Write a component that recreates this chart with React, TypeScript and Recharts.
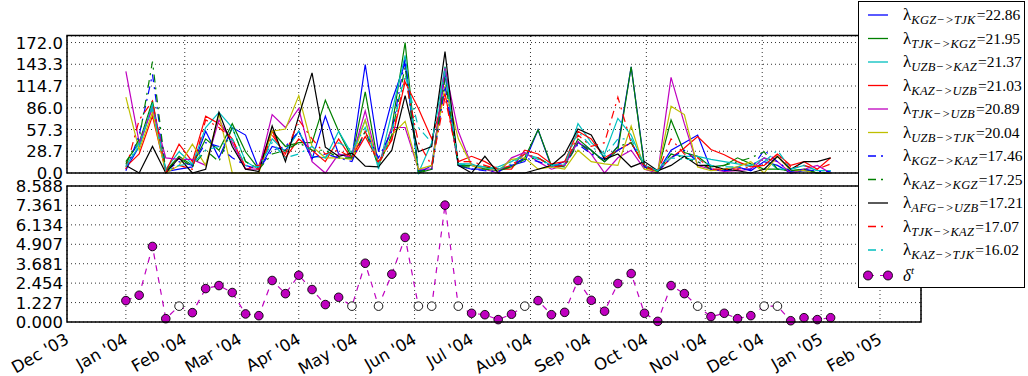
import React from 'react';
import { LineChart, Line, XAxis, YAxis, CartesianGrid } from 'recharts';

// weekly observations
const weeks = [
  '2004-01-01', '2004-01-08', '2004-01-15', '2004-01-22', '2004-01-29',
  '2004-02-05', '2004-02-12', '2004-02-19', '2004-02-26',
  '2004-03-04', '2004-03-11', '2004-03-18', '2004-03-25',
  '2004-04-01', '2004-04-08', '2004-04-15', '2004-04-22', '2004-04-29',
  '2004-05-06', '2004-05-13', '2004-05-20', '2004-05-27',
  '2004-06-03', '2004-06-10', '2004-06-17', '2004-06-24',
  '2004-07-01', '2004-07-08', '2004-07-15', '2004-07-22', '2004-07-29',
  '2004-08-05', '2004-08-12', '2004-08-19', '2004-08-26',
  '2004-09-02', '2004-09-09', '2004-09-16', '2004-09-23', '2004-09-30',
  '2004-10-07', '2004-10-14', '2004-10-21', '2004-10-28',
  '2004-11-04', '2004-11-11', '2004-11-18', '2004-11-25',
  '2004-12-02', '2004-12-09', '2004-12-16', '2004-12-23', '2004-12-30',
  '2005-01-06',
];

const kgzTjk = [5, 35, 90, 2, 5, 8, 55, 20, 60, 50, 5, 35, 30, 55, 18, 75, 25, 20, 143, 28, 95, 145, 0, 10, 130, 10, 5, 5, 3, 10, 15, 57, 8, 15, 40, 30, 15, 35, 140, 10, 2, 30, 40, 50, 5, 3, 8, 3, 15, 10, 0, 3, 0, 0];
const tjkKgz = [15, 40, 95, 3, 22, 10, 45, 30, 65, 28, 5, 55, 35, 40, 40, 96, 55, 20, 107, 10, 60, 172, 0, 5, 140, 10, 10, 8, 5, 8, 20, 57, 10, 10, 45, 30, 15, 30, 140, 8, 2, 70, 27, 22, 8, 10, 20, 12, 5, 5, 3, 5, 0, 0];
const uzbKaz = [10, 35, 90, 5, 28, 12, 60, 80, 60, 15, 5, 45, 28, 55, 22, 20, 55, 25, 70, 5, 80, 155, 0, 40, 140, 12, 12, 5, 8, 15, 25, 20, 10, 10, 65, 40, 25, 72, 50, 10, 3, 25, 22, 22, 18, 15, 12, 10, 20, 5, 5, 10, 3, 3];
const kazUzb = [8, 25, 75, 2, 38, 15, 75, 65, 45, 5, 10, 55, 20, 45, 30, 15, 45, 18, 48, 15, 43, 120, 85, 45, 105, 15, 22, 15, 5, 5, 30, 25, 12, 15, 55, 45, 20, 30, 40, 10, 2, 20, 33, 48, 31, 24, 15, 8, 10, 25, 10, 15, 5, 20];
const tjkUzb = [134, 40, 85, 20, 18, 18, 10, 70, 40, 5, 5, 77, 60, 85, 15, 0, 25, 20, 82, 10, 60, 60, 5, 5, 138, 55, 10, 5, 0, 20, 27, 15, 5, 10, 42, 25, 0, 20, 30, 5, 0, 126, 65, 10, 5, 2, 3, 5, 20, 15, 0, 5, 10, 0];
const uzbTjk = [100, 30, 80, 0, 10, 38, 10, 78, 0, 0, 0, 55, 58, 102, 35, 20, 20, 18, 70, 10, 50, 68, 5, 10, 115, 45, 10, 5, 3, 18, 20, 5, 8, 5, 30, 15, 12, 10, 62, 5, 2, 88, 77, 8, 3, 5, 8, 15, 0, 22, 3, 3, 0, 0];
const kgzKaz = [3, 50, 130, 3, 15, 10, 40, 35, 20, 10, 5, 30, 35, 55, 20, 25, 20, 15, 55, 20, 55, 150, 3, 5, 115, 10, 5, 3, 2, 10, 20, 15, 10, 10, 38, 25, 18, 30, 40, 8, 2, 20, 30, 15, 5, 3, 5, 5, 30, 15, 2, 5, 2, 2];
const kazKgz = [12, 45, 147, 2, 20, 8, 30, 15, 60, 15, 5, 25, 30, 40, 30, 30, 20, 20, 55, 10, 50, 140, 2, 5, 125, 8, 8, 5, 3, 8, 18, 20, 10, 8, 40, 28, 15, 35, 40, 10, 2, 25, 20, 15, 5, 10, 15, 20, 28, 5, 3, 5, 0, 0];
const afgUzb = [10, 0, 35, 0, 20, 0, 5, 80, 35, 5, 2, 62, 15, 75, 132, 34, 22, 26, 9, 8, 30, 102, 28, 35, 160, 10, 0, 22, 0, 0, 0, 5, 10, 25, 58, 50, 18, 25, 8, 15, 3, 10, 22, 10, 10, 5, 3, 0, 5, 22, 5, 15, 15, 20];
const tjkKaz = [5, 70, 95, 2, 10, 5, 70, 60, 45, 8, 5, 50, 25, 70, 45, 25, 30, 20, 55, 12, 45, 125, 40, 10, 100, 15, 15, 10, 5, 10, 25, 20, 8, 10, 50, 35, 40, 100, 40, 8, 2, 45, 25, 20, 5, 5, 5, 8, 10, 25, 8, 10, 5, 12];
const kazTjk = [8, 40, 85, 3, 10, 12, 30, 35, 45, 10, 8, 40, 20, 25, 35, 20, 40, 30, 60, 10, 55, 130, 60, 40, 135, 12, 10, 8, 5, 12, 25, 18, 10, 12, 55, 35, 22, 45, 45, 10, 3, 20, 18, 18, 10, 8, 8, 10, 15, 30, 5, 10, 3, 3];

const delta = [1.35, 1.69, 4.77, 0.21, 1.0, 0.59, 2.11, 2.3, 1.86, 0.51, 0.4, 2.62, 1.79, 2.95, 2.05, 1.1, 1.56, 1.0, 3.71, 1.0, 3.02, 5.34, 1.0, 1.0, 7.38, 1.0, 0.55, 0.46, 0.15, 0.49, 1.0, 1.35, 0.46, 0.61, 2.62, 1.37, 0.68, 2.43, 3.06, 0.55, 0.04, 2.3, 1.79, 1.0, 0.34, 0.55, 0.21, 0.4, 1.0, 1.0, 0.08, 0.27, 0.15, 0.27];
const deltaMissing = [4, 17, 19, 22, 23, 25, 30, 43, 48, 49];

const monthTicks = ['2003-12-01', '2004-01-01', '2004-02-01', '2004-03-01', '2004-04-01', '2004-05-01', '2004-06-01', '2004-07-01', '2004-08-01', '2004-09-01', '2004-10-01', '2004-11-01', '2004-12-01', '2005-01-01', '2005-02-01'];
const monthLabels = ["Dec '03", "Jan '04", "Feb '04", "Mar '04", "Apr '04", "May '04", "Jun '04", "Jul '04", "Aug '04", "Sep '04", "Oct '04", "Nov '04", "Dec '04", "Jan '05", "Feb '05"];

const topTicks = [0, 28.667, 57.333, 86, 114.667, 143.333, 172];
const bottomTicks = [0, 1.227, 2.454, 3.681, 4.907, 6.134, 7.361, 8.588];

const DASHDOT = '8 5 2 5';
const series = [
  { key: 'kgzTjk', data: kgzTjk, color: '#0000ff', dash: undefined, sub: 'KGZ−>TJK', lam: '22.86' },
  { key: 'tjkKgz', data: tjkKgz, color: '#008000', dash: undefined, sub: 'TJK−>KGZ', lam: '21.95' },
  { key: 'uzbKaz', data: uzbKaz, color: '#00bfbf', dash: undefined, sub: 'UZB−>KAZ', lam: '21.37' },
  { key: 'kazUzb', data: kazUzb, color: '#ff0000', dash: undefined, sub: 'KAZ−>UZB', lam: '21.03' },
  { key: 'tjkUzb', data: tjkUzb, color: '#bf00bf', dash: undefined, sub: 'TJK−>UZB', lam: '20.89' },
  { key: 'uzbTjk', data: uzbTjk, color: '#bfbf00', dash: undefined, sub: 'UZB−>TJK', lam: '20.04' },
  { key: 'kgzKaz', data: kgzKaz, color: '#0000ff', dash: DASHDOT, sub: 'KGZ−>KAZ', lam: '17.46' },
  { key: 'kazKgz', data: kazKgz, color: '#008000', dash: DASHDOT, sub: 'KAZ−>KGZ', lam: '17.25' },
  { key: 'afgUzb', data: afgUzb, color: '#000000', dash: undefined, sub: 'AFG−>UZB', lam: '17.21' },
  { key: 'tjkKaz', data: tjkKaz, color: '#ff0000', dash: DASHDOT, sub: 'TJK−>KAZ', lam: '17.07' },
  { key: 'kazTjk', data: kazTjk, color: '#00bfbf', dash: DASHDOT, sub: 'KAZ−>TJK', lam: '16.02' },
];

const rows = weeks.map((w, i) => {
  const row: any = { t: Date.parse(w), delta: delta[i], missing: deltaMissing.includes(i) };
  series.forEach((s) => { row[s.key] = s.data[i]; });
  return row;
});

const xDomain = [Date.parse('2003-12-01'), Date.parse('2005-02-22T14:00:00Z')];
const monthTickValues = monthTicks.map((m) => Date.parse(m));

const FONT = '"DejaVu Sans", sans-serif';
const SERIF = '"Liberation Serif", "DejaVu Serif", serif';
const tickStyle = { fontSize: 16.5, fill: '#000', fontFamily: FONT };

const MonthTick = (props: any) => {
  const { x, y, payload } = props;
  const idx = monthTickValues.indexOf(payload.value);
  return (
    <g transform={`translate(${x - 3},${y + 2})`}>
      <text transform="rotate(-30)" textAnchor="end" dy={12} style={tickStyle}>
        {monthLabels[idx]}
      </text>
    </g>
  );
};

const makeValueTick = (digits: number) => (props: any) => {
  const { x, y, payload } = props;
  return (
    <text x={x} y={y} dy={6} textAnchor="end" style={tickStyle}>
      {Number(payload.value).toFixed(digits)}
    </text>
  );
};
const TopTick = makeValueTick(1);
const BottomTick = makeValueTick(3);

const DeltaDot = (props: any) => {
  const { cx, cy, payload, index } = props;
  return (
    <circle key={`d${index}`} cx={cx} cy={cy} r={4.3}
      fill={payload.missing ? '#ffffff' : '#bf00bf'} stroke="#000" strokeWidth={0.9} />
  );
};

const Legend = () => {
  const rowY = (i: number) => 15 + i * 23.5;
  return (
    <g>
      <rect x={858.5} y={1.5} width={166} height={286} fill="#fff" stroke="#000" strokeWidth={1} />
      {series.map((s, i) => (
        <g key={s.key}>
          <line x1={868} x2={888} y1={rowY(i)} y2={rowY(i)} stroke={s.color} strokeWidth={1.3}
            strokeDasharray={s.dash} />
          <text x={903} y={rowY(i) + 5} style={{ fontFamily: SERIF, fontSize: 17, fill: '#000' }}>
            <tspan>λ</tspan>
            <tspan dy={4} style={{ fontSize: 12.5, fontStyle: 'italic', letterSpacing: 0.3 }}>{s.sub}</tspan>
            <tspan dy={-4} dx={1} style={{ fontSize: 15.5 }}>={s.lam}</tspan>
          </text>
        </g>
      ))}
      <g>
        <line x1={868} x2={888} y1={rowY(11) + 2} y2={rowY(11) + 2} stroke="#bf00bf" strokeWidth={1.2} strokeDasharray="6 6" />
        <circle cx={868} cy={rowY(11) + 2} r={4.5} fill="#bf00bf" stroke="#000" strokeWidth={0.9} />
        <circle cx={888} cy={rowY(11) + 2} r={4.5} fill="#bf00bf" stroke="#000" strokeWidth={0.9} />
        <text x={903} y={rowY(11) + 7} style={{ fontFamily: SERIF, fontSize: 17, fontStyle: 'italic', fill: '#000' }}>
          <tspan>δ</tspan>
          <tspan dy={-7} style={{ fontSize: 11 }}>t</tspan>
        </text>
      </g>
    </g>
  );
};

export default function App() {
  return (
    <div style={{ position: 'absolute', left: 0, top: 0, width: 1028, height: 376, background: '#fff' }}>
      <div style={{ position: 'absolute', left: 0, top: 180 }}>
        <LineChart width={1028} height={196} data={rows} margin={{ top: 6, right: 107, bottom: 0, left: 7 }}>
          <CartesianGrid stroke="#000" strokeDasharray="1 3" strokeWidth={0.8} />
          <XAxis type="number" dataKey="t" domain={xDomain} ticks={monthTickValues} interval={0}
            height={54} tickSize={0} tickMargin={8} axisLine={false} tickLine={false} tick={<MonthTick />} />
          <YAxis type="number" domain={[0, 8.588]} ticks={bottomTicks} interval={0} width={60}
            tickSize={0} tickMargin={4} axisLine={false} tickLine={false} tick={<BottomTick />} />
          <Line type="linear" dataKey="delta" stroke="#bf00bf" strokeWidth={1.2} strokeDasharray="6 6"
            dot={<DeltaDot />} isAnimationActive={false} />
        </LineChart>
      </div>
      <div style={{ position: 'absolute', left: 0, top: 0 }}>
        <LineChart width={1028} height={184} data={rows} margin={{ top: 36, right: 107, bottom: 11, left: 7 }}
          style={{ overflow: 'visible' }}>
          <CartesianGrid stroke="#000" strokeDasharray="1 3" strokeWidth={0.8} />
          <XAxis type="number" dataKey="t" domain={xDomain} ticks={monthTickValues} hide />
          <YAxis type="number" domain={[0, 180.6]} ticks={topTicks} interval={0} width={60}
            tickSize={0} tickMargin={4} axisLine={false} tickLine={false} tick={<TopTick />} />
          {series.map((s) => (
            <Line key={s.key} type="linear" dataKey={s.key} stroke={s.color} strokeWidth={1.2}
              strokeDasharray={s.dash} dot={false} isAnimationActive={false} />
          ))}
        </LineChart>
      </div>
      <svg width={1028} height={376} style={{ position: 'absolute', left: 0, top: 0, pointerEvents: 'none' }}>
        <rect x={67} y={35.5} width={854} height={137.5} fill="none" stroke="#000" strokeWidth={1.5} />
        <rect x={67} y={186} width={854} height={136} fill="none" stroke="#000" strokeWidth={1.5} />
        <Legend />
      </svg>
    </div>
  );
}
